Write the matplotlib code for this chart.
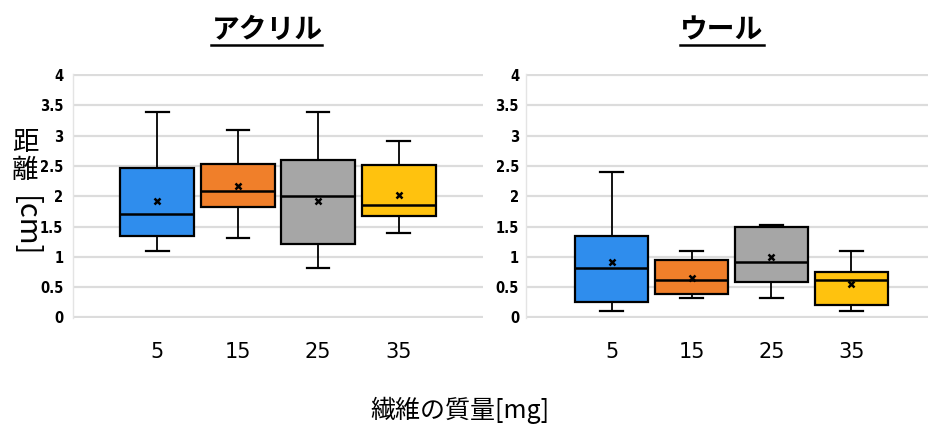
import numpy as np
import matplotlib
matplotlib.use("Agg")
import matplotlib.pyplot as plt
from matplotlib.lines import Line2D

# Fibre mass categories [mg]
masses = ["5", "15", "25", "35"]
box_colors = ["#2f8ded", "#f07f2a", "#a6a6a6", "#ffc20e"]

# Acrylic: distance [cm] summary per mass
acryl_low = [1.10, 1.31, 0.81, 1.40]
acryl_q1 = [1.35, 1.82, 1.22, 1.68]
acryl_med = [1.70, 2.09, 2.01, 1.86]
acryl_q3 = [2.46, 2.53, 2.60, 2.51]
acryl_high = [3.40, 3.10, 3.40, 2.91]
acryl_mean = [1.93, 2.17, 1.92, 2.02]

# Wool: distance [cm] summary per mass
wool_low = [0.11, 0.32, 0.32, 0.11]
wool_q1 = [0.26, 0.39, 0.58, 0.21]
wool_med = [0.82, 0.61, 0.92, 0.61]
wool_q3 = [1.34, 0.95, 1.49, 0.75]
wool_high = [2.40, 1.10, 1.53, 1.10]
wool_mean = [0.92, 0.65, 0.99, 0.55]

yticks = [0, 0.5, 1, 1.5, 2, 2.5, 3, 3.5, 4]

CJK = ["Noto Sans CJK JP", "DejaVu Sans"]
NUM = ["DejaVu Sans"]

W, H = 929, 436
fig = plt.figure(figsize=(W / 100, H / 100), dpi=100)
fig.patch.set_facecolor("white")


def build_stats(low, q1, med, q3, high, mean):
    return [dict(whislo=a, q1=b, med=c, q3=d, whishi=e, mean=f, fliers=[])
            for a, b, c, d, e, f in zip(low, q1, med, q3, high, mean)]


def draw_panel(rect, stats, xlim):
    ax = fig.add_axes(rect)
    pos = np.arange(1, len(stats) + 1)
    res = ax.bxp(stats, positions=pos, widths=0.92, patch_artist=True,
                 showmeans=True, showfliers=False,
                 boxprops=dict(edgecolor="black", linewidth=1.6),
                 medianprops=dict(color="black", linewidth=1.8),
                 whiskerprops=dict(color="black", linewidth=1.3),
                 capprops=dict(color="black", linewidth=1.6),
                 meanprops=dict(marker="x", markeredgecolor="black",
                                markersize=5, markeredgewidth=1.8),
                 capwidths=0.28, zorder=3)
    for patch, col in zip(res["boxes"], box_colors):
        patch.set_facecolor(col)
    ax.set_xlim(*xlim)
    ax.set_ylim(-0.01, 4.02)
    ax.set_yticks(yticks)
    ax.set_yticklabels([f"{v:g}" for v in yticks], family=NUM,
                       fontweight="bold", fontsize=10.5, fontstretch="condensed")
    ax.set_xticks(pos)
    ax.set_xticklabels(masses, family=NUM, fontsize=15)
    ax.tick_params(axis="both", length=0)
    ax.tick_params(axis="y", pad=7)
    ax.tick_params(axis="x", pad=17)
    ax.yaxis.grid(True, color="#dcdcdc", linewidth=1.6, zorder=0)
    ax.set_axisbelow(True)
    for side in ("top", "right", "bottom"):
        ax.spines[side].set_visible(False)
    ax.spines["left"].set_color("#e4e4e4")
    ax.spines["left"].set_linewidth(1.0)
    return ax


bottom = 1 - 318 / H
height = 244 / H
ax1 = draw_panel([73 / W, bottom, 410 / W, height],
                 build_stats(acryl_low, acryl_q1, acryl_med, acryl_q3,
                             acryl_high, acryl_mean), (-0.05, 5.05))
ax2 = draw_panel([526 / W, bottom, 403 / W, height],
                 build_stats(wool_low, wool_q1, wool_med, wool_q3,
                             wool_high, wool_mean), (-0.07, 4.97))
ax2.tick_params(axis="y", pad=5)

# Panel titles (bold, underlined)
titles = [fig.text(267 / W, 1 - 30 / H, "アクリル", family=CJK,
                   fontweight="bold", fontsize=20, ha="center", va="center"),
          fig.text(722 / W, 1 - 30 / H, "ウール", family=CJK,
                   fontweight="bold", fontsize=20, ha="center", va="center")]

# Vertical y-axis label: kanji upright, bracketed unit turned sideways
fig.text(25 / W, 1 - 143 / H, "距", family=CJK, fontsize=19,
         ha="center", va="center")
fig.text(25 / W, 1 - 170 / H, "離", family=CJK, fontsize=19,
         ha="center", va="center")
fig.text(25 / W, 1 - 227 / H, "[cm]", family=CJK, fontsize=21,
         rotation=-90, ha="center", va="center")

fig.text(460 / W, 1 - 410 / H, "繊維の質量[mg]", family=CJK, fontsize=18,
         ha="center", va="center")

fig.canvas.draw()
renderer = fig.canvas.get_renderer()
for t in titles:
    bb = t.get_window_extent(renderer).transformed(fig.transFigure.inverted())
    y = bb.y0 - 1 / H
    fig.add_artist(Line2D([bb.x0, bb.x1], [y, y], transform=fig.transFigure,
                          color="black", linewidth=1.8))

fig.savefig("out.png", dpi=100, facecolor="white")
